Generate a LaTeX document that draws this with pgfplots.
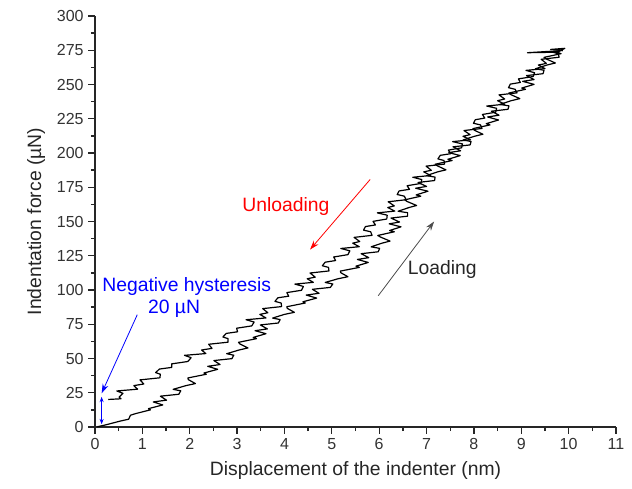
\documentclass[border=0pt]{standalone}
\usepackage{fontspec}
\setmainfont{Liberation Sans}
\usepackage{pgfplots}
\usepackage{pgfplotstable}
\pgfplotsset{compat=1.18}
\usetikzlibrary{arrows.meta}

% loading branch (noisy displacement)
\pgfplotstableread{
x y
0.05 0.2
0.22 1.5
0.52 4.2
0.71 5.7
0.75 8.6
0.86 9.8
1.17 12.5
1.13 13.4
1.43 16.1
1.23 18.3
1.51 19.6
1.38 22.5
1.77 23.9
1.81 26.4
1.65 27.5
1.92 30.2
2.12 31.7
1.97 34.6
1.96 35.8
2.35 38.5
2.30 39.4
2.59 42.1
2.38 44.3
2.64 45.6
2.51 48.5
2.89 49.9
2.93 52.4
2.78 53.5
3.04 56.2
3.23 57.7
3.06 60.6
3.03 61.8
3.41 64.5
3.34 65.4
3.61 68.1
3.38 70.3
3.64 71.6
3.49 74.5
3.87 75.9
3.91 78.4
3.75 79.5
4.00 82.2
4.21 83.7
4.06 86.6
4.05 87.8
4.44 90.5
4.39 91.4
4.68 94.1
4.46 96.3
4.73 97.6
4.59 100.5
4.97 101.9
5.02 104.4
4.86 105.5
5.13 108.2
5.34 109.7
5.19 112.6
5.18 113.8
5.58 116.5
5.51 117.4
5.77 120.1
5.54 122.3
5.78 123.6
5.62 126.5
5.98 127.9
6.01 130.4
5.83 131.5
6.06 134.2
6.23 135.7
6.03 138.6
5.97 139.8
6.32 142.5
6.22 143.4
6.46 146.1
6.21 148.3
6.43 149.6
6.25 152.5
6.60 153.9
6.60 156.4
6.40 157.5
6.63 160.2
6.79 161.7
6.59 164.6
6.54 165.8
6.88 168.5
6.78 169.4
7.03 172.1
6.77 174.3
7.00 175.6
6.82 178.5
7.17 179.9
7.18 182.4
7.00 183.5
7.23 186.2
7.41 187.7
7.23 190.6
7.18 191.8
7.54 194.5
7.45 195.4
7.71 198.1
7.47 200.3
7.72 201.6
7.56 204.5
7.92 205.9
7.94 208.4
7.77 209.5
8.01 212.2
8.19 213.7
8.01 216.6
7.98 217.8
8.34 220.5
8.26 221.4
8.52 224.1
8.29 226.3
8.53 227.6
8.37 230.5
8.72 231.9
8.74 234.4
8.55 235.5
8.79 238.2
8.97 239.7
8.78 242.6
8.74 243.8
9.09 246.5
9.01 247.4
9.27 250.1
9.03 252.3
9.27 253.6
9.11 256.5
9.46 257.9
9.48 260.4
9.30 261.5
9.54 264.2
9.72 265.7
9.53 268.6
9.48 269.8
9.84 272.5
9.75 273.4
9.92 276.4
9.62 275.6
9.88 274.8
}\loading

% unloading branch
\pgfplotstableread{
x y
9.88 274.8
9.13 273.2
9.80 273.6
9.65 273.7
9.78 272.5
9.80 269.9
9.42 268.4
9.53 265.4
9.36 264.2
9.50 261.6
9.10 260.3
9.28 258.6
9.25 255.8
8.94 254.1
8.98 251.5
8.77 250.3
8.73 247.7
8.87 246.5
8.91 243.9
8.53 242.4
8.65 239.4
8.50 238.2
8.65 235.6
8.27 234.3
8.48 232.6
8.46 229.8
8.18 228.1
8.23 225.5
8.03 224.3
7.99 221.7
8.14 220.5
8.17 217.9
7.79 216.4
7.92 213.4
7.77 212.2
7.93 209.6
7.55 208.3
7.76 206.6
7.74 203.8
7.46 202.1
7.51 199.5
7.29 198.3
7.24 195.7
7.37 194.5
7.38 191.9
6.99 190.4
7.10 187.4
6.94 186.2
7.09 183.6
6.71 182.3
6.90 180.6
6.88 177.8
6.59 176.1
6.64 173.5
6.42 172.3
6.38 169.7
6.53 168.5
6.57 165.9
6.19 164.4
6.32 161.4
6.18 160.2
6.33 157.6
5.96 156.3
6.17 154.6
6.16 151.8
5.87 150.1
5.92 147.5
5.71 146.3
5.67 143.7
5.82 142.5
5.85 139.9
5.47 138.4
5.59 135.4
5.44 134.2
5.58 131.6
5.19 130.3
5.38 128.6
5.34 125.8
5.04 124.1
5.08 121.5
4.86 120.3
4.80 117.7
4.93 116.5
4.94 113.9
4.54 112.4
4.65 109.4
4.48 108.2
4.61 105.6
4.22 104.3
4.40 102.6
4.36 99.8
4.05 98.1
4.09 95.5
3.86 94.3
3.80 91.7
3.93 90.5
3.94 87.9
3.54 86.4
3.65 83.4
3.48 82.2
3.61 79.6
3.19 78.3
3.36 76.6
3.31 73.8
2.99 72.1
3.01 69.5
2.77 68.3
2.70 65.7
2.81 64.5
2.81 61.9
2.40 60.4
2.47 57.4
2.25 56.2
2.34 53.6
1.89 52.3
2.03 50.6
1.96 47.8
1.62 46.1
1.62 43.5
1.36 42.3
1.28 39.7
1.38 38.5
1.37 35.9
0.95 34.4
1.03 31.4
0.82 30.2
0.90 27.6
0.46 26.3
0.59 24.6
0.51 21.8
0.55 20.6
0.28 20.1
}\unloading

\begin{document}
\begin{tikzpicture}
\begin{axis}[
    scale only axis,
    width=390.75pt, height=308.25pt,
    xmin=0, xmax=11, ymin=0, ymax=300,
    axis lines*=left,
    axis line style={line width=1.1pt, black!85},
    tick align=outside,
    tick style={line width=1pt, black!85},
    major tick length=5pt, minor tick length=3pt,
    xtick={0,1,...,11}, ytick={0,25,...,300},
    minor x tick num=1, minor y tick num=1,
    tick label style={font=\fontsize{12}{14}\selectfont, text=black!80},
    /pgf/number format/assume math mode=true,
    xlabel={Displacement of the indenter (nm)},
    ylabel={Indentation force (µN)},
    label style={font=\fontsize{14.5}{17}\selectfont, text=black!85},
    xlabel style={yshift=-2pt},
    ylabel style={yshift=2pt},
    clip=false]
  \addplot[black, line width=0.9pt, line join=round] table[x=x, y=y] {\loading};
  \addplot[black, line width=0.9pt, line join=round] table[x=x, y=y] {\unloading};
  \draw[red, line width=0.6pt, -{Stealth[length=7pt,width=4.5pt]}] (5.81,180.7) -- (4.54,129.5);
  \node[red, font=\fontsize{14.5}{17}\selectfont] at (4.03,161) {Unloading};
  \draw[black!70, line width=0.6pt, -{Stealth[length=7pt,width=4.5pt]}] (5.98,95.8) -- (7.16,150);
  \node[black!85, font=\fontsize{14.5}{17}\selectfont] at (7.33,115) {Loading};
  \node[blue, font=\fontsize{14.5}{17}\selectfont] at (1.935,102.6) {Negative hysteresis};
  \node[blue, font=\fontsize{14.5}{17}\selectfont] at (1.67,86.3) {20 µN};
  \draw[blue, line width=0.6pt, -{Stealth[length=7pt,width=4.5pt]}] (0.893,82) -- (0.14,24.6);
  \draw[blue, line width=0.6pt, {Stealth[length=4pt,width=3pt]}-{Stealth[length=4pt,width=3pt]}] (0.14,2) -- (0.14,22);
\end{axis}
\path (-71.25pt,-46.5pt) rectangle (402.75pt,320.25pt);
\end{tikzpicture}
\end{document}
